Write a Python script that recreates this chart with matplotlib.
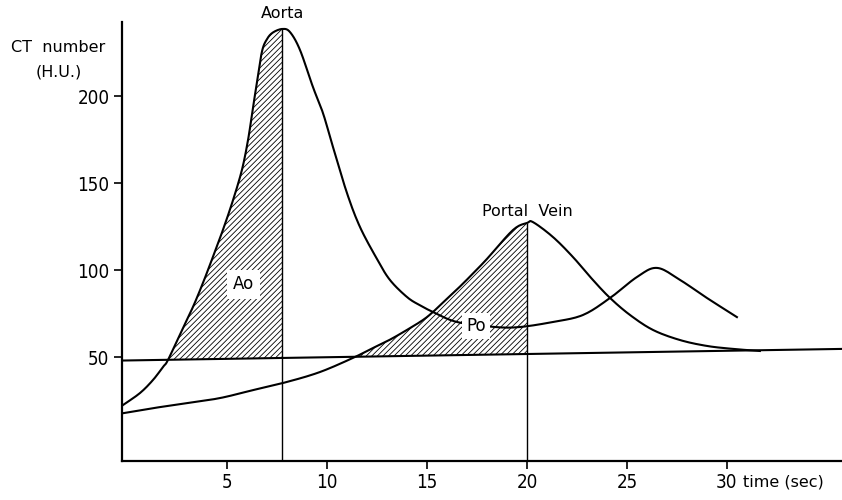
import numpy as np
import matplotlib
matplotlib.use('Agg')
import matplotlib.pyplot as plt

# values (time in sec, CT number in H.U.)
aorta_t = [-0.23, 0.62, 1.27, 1.77, 2.02, 2.72, 3.27, 3.77, 4.27, 4.77, 5.28, 5.73,
           6.03, 6.23, 6.48, 6.73, 6.98, 7.28, 7.75, 8.13, 8.63, 9.28, 9.78, 10.28,
           10.98, 11.63, 12.48, 13.13, 13.98, 14.6, 15.28, 16.48, 18.39, 19.64,
           21.29, 22.79, 24.15, 25.5, 26.5, 27.65, 29.0, 30.5]
aorta_v = [22.4, 29.3, 36.8, 44.3, 48.3, 65.5, 78.8, 92.6, 107.6, 123.1, 140.4, 158.0,
           175.0, 190.0, 208.5, 226.0, 233.0, 236.8, 238.8, 237.0, 226.7, 205.3, 190.4, 170.9,
           144.4, 124.9, 106.5, 94.4, 84.6, 80.0, 76.0, 70.2, 67.3, 67.3,
           70.2, 74.2, 84.0, 96.1, 101.3, 94.4, 84.0, 73.0]

portal_t = [-0.23, 1.27, 2.97, 4.62, 6.28, 7.98, 9.63, 11.28, 12.28, 13.13, 13.98,
            14.78, 15.28, 15.98, 16.63, 17.28, 17.99, 19.29, 20.0, 20.3, 21.29, 22.29,
            23.29, 24.15, 25.15, 26.3, 27.65, 29.0, 30.3, 31.65]
portal_v = [17.7, 20.6, 23.5, 26.4, 31.0, 35.7, 41.4, 49.5, 55.2, 60.0, 65.6,
            71.3, 75.9, 83.5, 90.5, 98.0, 106.5, 123.1, 127.2, 127.6, 119.1, 107.6,
            94.4, 84.0, 74.2, 65.6, 59.8, 56.4, 54.7, 53.5]

base_t = [-0.3, 35.8]
base_v = [48.0, 54.7]

ao_range = (2.02, 7.75)
po_range = (11.28, 20.0)

x_ticks = [5, 10, 15, 20, 25, 30]
y_ticks = [50, 100, 150, 200]


def smooth(t, v, n=12):
    # Catmull-Rom through the read points, only for drawing a smooth line
    t = np.asarray(t, float)
    v = np.asarray(v, float)
    pt = np.concatenate([[2 * t[0] - t[1]], t, [2 * t[-1] - t[-2]]])
    pv = np.concatenate([[2 * v[0] - v[1]], v, [2 * v[-1] - v[-2]]])
    xs, ys = [t[0]], [v[0]]
    s = np.linspace(0, 1, n + 1)[1:]
    for i in range(1, len(pt) - 2):
        for arr, out in ((pt, xs), (pv, ys)):
            p0, p1, p2, p3 = arr[i - 1], arr[i], arr[i + 1], arr[i + 2]
            out.extend(0.5 * (2 * p1 + (-p0 + p2) * s + (2 * p0 - 5 * p1 + 4 * p2 - p3) * s ** 2
                              + (-p0 + 3 * p1 - 3 * p2 + p3) * s ** 3))
    return np.array(xs), np.array(ys)


plt.rcParams['hatch.linewidth'] = 0.6
plt.rcParams['font.family'] = ['DejaVu Sans']

fig = plt.figure(figsize=(8.42, 5.0), dpi=100)
ax = fig.add_axes([122 / 842, 39 / 500, 720 / 842, 439 / 500])
ax.set_xlim(-0.28, 35.76)
ax.set_ylim(-9.8, 242.8)

at, av = smooth(aorta_t, aorta_v)
pt, pv = smooth(portal_t, portal_v)

lw = 1.5
ax.plot(base_t, base_v, color='black', lw=lw, solid_capstyle='butt')
ax.plot(at, av, color='black', lw=lw)
ax.plot(pt, pv, color='black', lw=lw)

# hatched areas between baseline and curve
m = (at >= ao_range[0]) & (at <= ao_range[1] + 1e-9)
ax.fill_between(at[m], np.interp(at[m], base_t, base_v), av[m],
                facecolor='none', edgecolor='black', hatch='//////', linewidth=0)
m = (pt >= po_range[0]) & (pt <= po_range[1] + 1e-9)
ax.fill_between(pt[m], np.interp(pt[m], base_t, base_v), pv[m],
                facecolor='none', edgecolor='black', hatch='//////', linewidth=0)

# vertical cut lines at the peaks
ao_top = aorta_v[aorta_t.index(ao_range[1])]
po_top = portal_v[portal_t.index(po_range[1])]
ax.vlines(ao_range[1], -9.8, ao_top, color='black', lw=1.0)
ax.vlines(po_range[1], -9.8, po_top, color='black', lw=1.0)

for s in ['top', 'right']:
    ax.spines[s].set_visible(False)
for s in ['left', 'bottom']:
    ax.spines[s].set_linewidth(1.6)

ax.set_xticks(x_ticks)
ax.set_yticks(y_ticks)
ax.set_xticklabels([str(v) for v in x_ticks], fontsize=13.5, fontstretch='condensed')
ax.set_yticklabels([str(v) for v in y_ticks], fontsize=13.5, fontstretch='condensed')
ax.tick_params(axis='both', direction='out', length=6, width=1.2, pad=3)

# labels
txt = dict(color='black', fontsize=11.5)
ax.text(7.78, 247.5, 'Aorta', ha='center', va='center', **txt)
ax.text(20.0, 134.0, 'Portal  Vein', ha='center', va='center', **txt)
ax.text(5.8, 92.0, 'Ao', ha='center', va='center', fontsize=12,
        bbox=dict(facecolor='white', edgecolor='none', pad=4))
ax.text(17.45, 67.8, 'Po', ha='center', va='center', fontsize=12,
        bbox=dict(facecolor='white', edgecolor='none', pad=3))

fig.text(58 / 842, 1 - 48 / 500, 'CT  number', ha='center', va='center', **txt)
fig.text(58.5 / 842, 1 - 72 / 500, '(H.U.)', ha='center', va='center', **txt)
fig.text(743 / 842, 1 - 482 / 500, 'time (sec)', ha='left', va='center', **txt)

fig.savefig('out.png', dpi=100)
